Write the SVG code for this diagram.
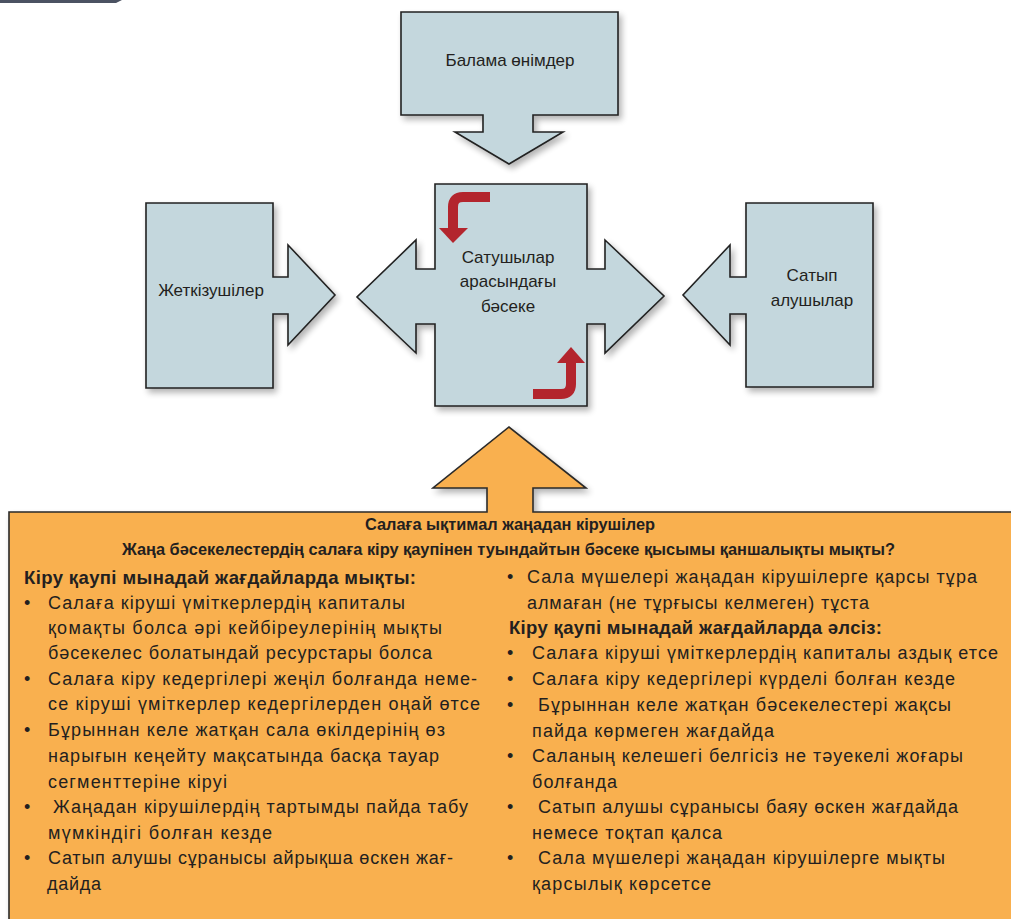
<svg xmlns="http://www.w3.org/2000/svg" width="1011" height="919" viewBox="0 0 1011 919">
<style>
.box{fill:#C4D7DD;stroke:#222;stroke-width:1.6;stroke-linejoin:miter}
.org{fill:#F9B04F;stroke:#2a2a2a;stroke-width:1.6}
.lbl{font-family:"Liberation Sans",Arial,sans-serif;font-size:17px;fill:#231F20;text-anchor:middle}
.ttl{font-family:"Liberation Sans",Arial,sans-serif;font-size:17px;font-weight:bold;fill:#231F20}
.hd{font-family:"Liberation Sans",Arial,sans-serif;font-size:18.5px;font-weight:bold;fill:#231F20}
.tx{font-family:"Liberation Sans",Arial,sans-serif;font-size:18px;fill:#231F20}
.red{fill:none;stroke:#B3252D;stroke-width:10}
.redh{fill:#B3252D}
</style>
<defs>
<filter id="sh" x="-10%" y="-10%" width="130%" height="130%">
<feGaussianBlur in="SourceAlpha" stdDeviation="3"/>
<feOffset dx="3" dy="4" result="b"/>
<feComponentTransfer><feFuncA type="linear" slope="0.3"/></feComponentTransfer>
<feMerge><feMergeNode/><feMergeNode in="SourceGraphic"/></feMerge>
</filter>
</defs>
<rect width="1011" height="919" fill="#fff"/>
<polygon points="0,0 122,0 116,3 0,3" fill="#4B5262"/>

<g id="connectors"></g>

<g id="node-top">
<polygon class="box" filter="url(#sh)" points="401,12 618,12 618,115 533,115 533,132 563,132 509,164 455,132 483,132 483,115 401,115"/>
<text class="lbl" x="510" y="66">Балама өнімдер</text>
</g>

<g id="node-left">
<polygon class="box" filter="url(#sh)" points="146,203 273,203 273,277 288,277 288,245 335,295 288,345 288,314 273,314 273,388 146,388"/>
<text class="lbl" x="211" y="296">Жеткізушілер</text>
</g>

<g id="node-right">
<polygon class="box" filter="url(#sh)" points="746,203 873,203 873,387 746,387 746,314 730,314 730,345 683,295 730,245 730,277 746,277"/>
<text class="lbl" x="812" y="281">Сатып</text>
<text class="lbl" x="812" y="306">алушылар</text>
</g>

<g id="node-center">
<polygon class="box" filter="url(#sh)" points="435,184 587,184 587,269 605,269 605,240 664,296 605,353 605,324 587,324 587,406 435,406 435,324 416,324 416,353 357,297 416,240 416,269 435,269"/>
<path class="red" d="M490,197 H463 Q453,197 453,207 V229"/>
<polygon class="redh" points="439,228 468,228 453,243"/>
<path class="red" d="M533,394 H561 Q571,394 571,384 V362"/>
<polygon class="redh" points="557,363 585,363 571,347"/>
<text class="lbl" x="508" y="263">Сатушылар</text>
<text class="lbl" x="508" y="287">арасындағы</text>
<text class="lbl" x="508" y="312">бәсеке</text>
</g>

<g id="node-bottom">
<polygon class="org" filter="url(#sh)" points="9,930 9,512 487,512 487,488 433,488 509,427 586,488 533,488 533,512 1020,512 1020,930"/>
<text class="ttl" x="365" y="530" textLength="290" lengthAdjust="spacingAndGlyphs">Салаға ықтимал жаңадан кірушілер</text>
<text class="ttl" x="122" y="555" textLength="773" lengthAdjust="spacingAndGlyphs">Жаңа бәсекелестердің салаға кіру қаупінен туындайтын бәсеке қысымы қаншалықты мықты?</text>

<text class="hd" x="24" y="584" textLength="392">Кіру қаупі мынадай жағдайларда мықты:</text>
<text class="tx" x="24" y="609">•</text>
<text class="tx" x="48" y="609" textLength="357">Салаға кіруші үміткерлердің капиталы</text>
<text class="tx" x="48" y="634" textLength="394">қомақты болса әрі кейбіреулерінің мықты</text>
<text class="tx" x="48" y="659" textLength="384">бәсекелес болатындай ресурстары болса</text>
<text class="tx" x="24" y="685">•</text>
<text class="tx" x="48" y="685" textLength="429">Салаға кіру кедергілері жеңіл болғанда неме-</text>
<text class="tx" x="48" y="710" textLength="432">се кіруші үміткерлер кедергілерден оңай өтсе</text>
<text class="tx" x="24" y="736">•</text>
<text class="tx" x="48" y="736" textLength="397">Бұрыннан келе жатқан сала өкілдерінің өз</text>
<text class="tx" x="48" y="762" textLength="391">нарығын кеңейту мақсатында басқа тауар</text>
<text class="tx" x="48" y="788" textLength="179">сегменттеріне кіруі</text>
<text class="tx" x="24" y="813">•</text>
<text class="tx" x="53" y="813" textLength="415">Жаңадан кірушілердің тартымды пайда табу</text>
<text class="tx" x="48" y="839" textLength="224">мүмкіндігі болған кезде</text>
<text class="tx" x="24" y="864">•</text>
<text class="tx" x="48" y="864" textLength="405">Сатып алушы сұранысы айрықша өскен жағ-</text>
<text class="tx" x="47" y="890" textLength="54">дайда</text>

<text class="tx" x="507" y="583">•</text>
<text class="tx" x="527" y="583" textLength="450">Сала мүшелері жаңадан кірушілерге қарсы тұра</text>
<text class="tx" x="527" y="609" textLength="342">алмаған (не тұрғысы келмеген) тұста</text>
<text class="hd" x="509" y="634" textLength="373">Кіру қаупі мынадай жағдайларда әлсіз:</text>
<text class="tx" x="507" y="659">•</text>
<text class="tx" x="532" y="659" textLength="466">Салаға кіруші үміткерлердің капиталы аздық етсе</text>
<text class="tx" x="507" y="685">•</text>
<text class="tx" x="532" y="685" textLength="423">Салаға кіру кедергілері күрделі болған кезде</text>
<text class="tx" x="507" y="711">•</text>
<text class="tx" x="538" y="711" textLength="413">Бұрыннан келе жатқан бәсекелестері жақсы</text>
<text class="tx" x="532" y="737" textLength="242">пайда көрмеген жағдайда</text>
<text class="tx" x="507" y="762">•</text>
<text class="tx" x="532" y="762" textLength="431">Саланың келешегі белгісіз не тәуекелі жоғары</text>
<text class="tx" x="532" y="788" textLength="85">болғанда</text>
<text class="tx" x="507" y="813">•</text>
<text class="tx" x="538" y="813" textLength="420">Сатып алушы сұранысы баяу өскен жағдайда</text>
<text class="tx" x="532" y="839" textLength="190">немесе тоқтап қалса</text>
<text class="tx" x="507" y="864">•</text>
<text class="tx" x="538" y="864" textLength="407">Сала мүшелері жаңадан кірушілерге мықты</text>
<text class="tx" x="532" y="890" textLength="179">қарсылық көрсетсе</text>
</g>
</svg>
